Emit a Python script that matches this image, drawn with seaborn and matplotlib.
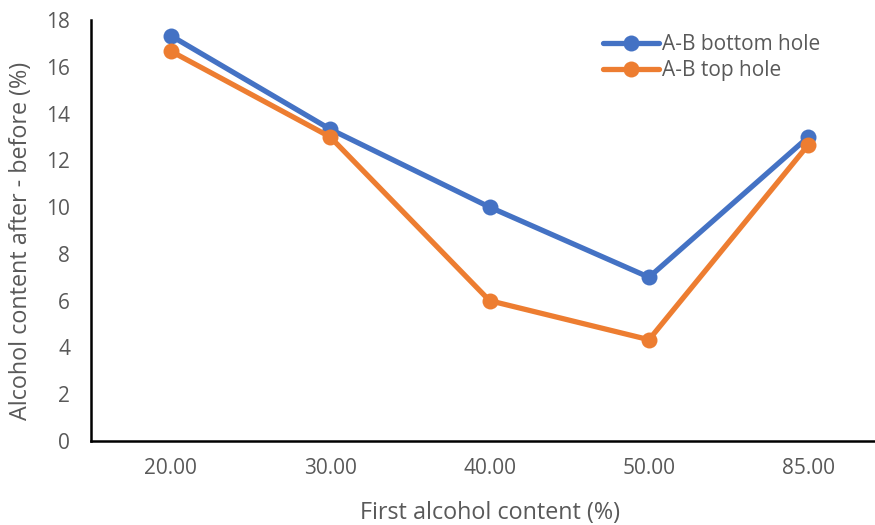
import pandas as pd
import seaborn as sns
import matplotlib.pyplot as plt

categories = ['20.00', '30.00', '40.00', '50.00', '85.00']
bottom_hole = [17.33, 13.33, 10.0, 7.0, 13.0]
top_hole = [16.67, 13.0, 6.0, 4.33, 12.67]

df = pd.DataFrame({
    'x': list(range(len(categories))) * 2,
    'y': bottom_hole + top_hole,
    'series': ['A-B bottom hole'] * 5 + ['A-B top hole'] * 5,
})

sns.set_style('white')
plt.rcParams['font.family'] = ['Open Sans', 'DejaVu Sans']

fig = plt.figure(figsize=(8.75, 5.25), dpi=100)
ax = fig.add_axes([0.104, 0.16, 0.911, 0.802])

sns.lineplot(data=df, x='x', y='y', hue='series',
             palette=['#4472C4', '#ED7D31'], linewidth=3.8,
             marker='o', markersize=11.5, markeredgewidth=0, ax=ax)

ax.set_xlim(-0.5, 4.5)
ax.set_ylim(0, 18)
ax.set_yticks(range(0, 19, 2))
ax.set_xticks(range(len(categories)))
ax.set_xticklabels(categories)
ax.tick_params(axis='both', labelsize=15, colors='#595959', length=0)
ax.tick_params(axis='x', pad=12)
ax.tick_params(axis='y', pad=15)

for s in ['top', 'right']:
    ax.spines[s].set_visible(False)
for s in ['left', 'bottom']:
    ax.spines[s].set_color('black')
    ax.spines[s].set_linewidth(1.8)
ax.spines['bottom'].set_clip_on(False)

ax.set_xlabel('First alcohol content (%)', fontsize=16.8, color='#595959', labelpad=16)
ax.set_ylabel('Alcohol content after - before (%)', fontsize=16.8, color='#595959')
ax.yaxis.set_label_coords((21 - 91) / 797, 0.475)
ax.yaxis.label.set_va('center')

leg = ax.legend(loc='upper left', bbox_to_anchor=(603 / 875, 1 - 34 / 525),
                bbox_transform=fig.transFigure, frameon=False,
                borderpad=0, borderaxespad=0,
                fontsize=15, handlelength=2.7, handletextpad=0.15,
                labelspacing=0.25, labelcolor='#595959')

fig.savefig('out.png', dpi=100)
